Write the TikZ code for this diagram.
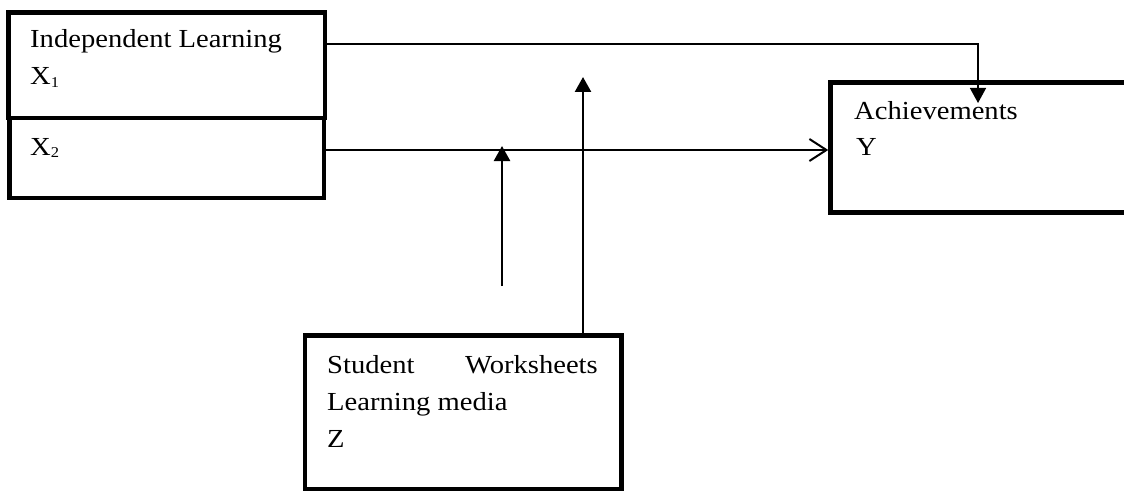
\documentclass[tikz,border=0pt]{standalone}
\usepackage{fontspec}
\setmainfont[FakeStretch=1.1]{Liberation Serif}
\usetikzlibrary{arrows.meta}
\tikzset{
  box/.style={draw, line width=4.5pt, rectangle, inner sep=0pt},
  lbl/.style={inner sep=0pt, anchor=base west, font=\fontsize{26}{30}\selectfont},
  lblr/.style={inner sep=0pt, anchor=base east, font=\fontsize{26}{30}\selectfont},
  conn/.style={line width=2pt},
  tri/.style={-{Triangle[length=15pt,width=16pt]}},
  barb/.style={-{Straight Barb[length=17pt,width=22pt,line width=2pt]}}
}
\begin{document}
\begin{tikzpicture}[x=1pt,y=-1pt]
\useasboundingbox (0,0) rectangle (1124,492);
\clip (0,0) rectangle (1124,492);
% boxes
\node[box, minimum width=314.5pt, minimum height=80pt] (X2) at (166.75,158) {};
\node[box, minimum width=316.5pt, minimum height=105.5pt] (X1) at (166.75,65.25) {};
\node[box, minimum width=309.5pt, minimum height=130pt] (Ach) at (985.25,147.5) {};
\node[box, minimum width=316.5pt, minimum height=153.5pt] (Z) at (463.25,412.25) {};
% texts
\node[lbl] (t1) at (30,48) {Independent Learning};
\node[lbl] (t2) at (30,85) {X{\fontsize{15}{18}\selectfont\raisebox{-2pt}{1}}};
\node[lbl] (t3) at (30,155) {X{\fontsize{15}{18}\selectfont\raisebox{-2pt}{2}}};
\node[lbl] (t4) at (854,120) {Achievements};
\node[lbl] (t5) at (856,156) {Y};
\node[lbl] (t6) at (327,373) {Student};
\node[lblr] (t7) at (598,373) {Worksheets};
\node[lbl] (t8) at (327,410) {Learning media};
\node[lbl] (t9) at (327,447) {Z};
% coordinates
\coordinate (achin) at (978,103);
\coordinate (s1) at (502,286);
\coordinate (m1) at (502,146);
\coordinate (m2) at (583,77);
% connectors
\draw[line width=1.5pt, tri] (X1.east |- 0,44) -| (achin);
\draw[conn, barb] (X2.east |- 0,150) -- (Ach.west |- 0,150);
\draw[line width=2.5pt, tri] (s1) -- (m1);
\draw[line width=2.5pt, tri] (Z.north -| m2) -- (m2);
\end{tikzpicture}
\end{document}
